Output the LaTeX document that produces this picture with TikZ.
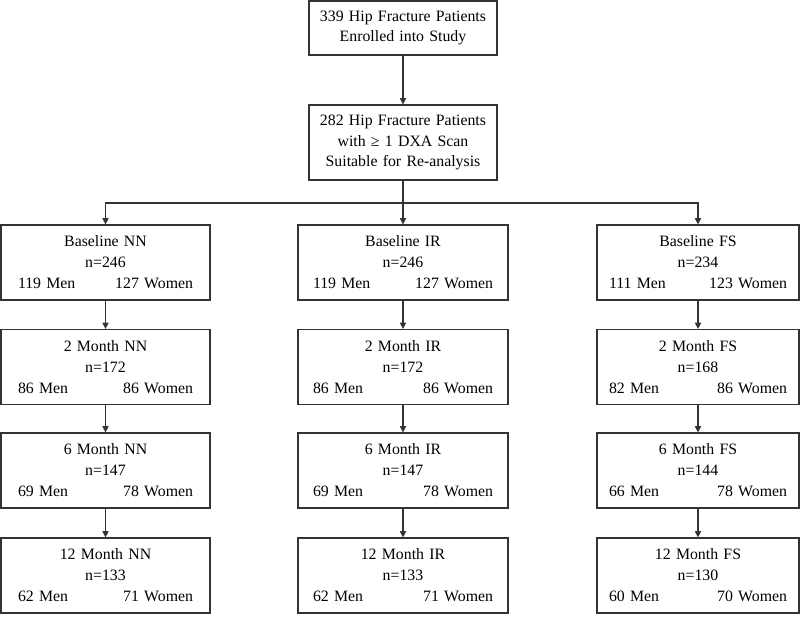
\documentclass[tikz,border=0pt]{standalone}
\usepackage{fontspec}
\setmainfont{Liberation Serif}
\usetikzlibrary{arrows.meta}

\begin{document}
\begin{tikzpicture}[
	font = \fontsize{9}{11.9}\selectfont,
	box/.style = {draw = black!80, line width = 0.7pt, shape = rectangle,
				  align = center, inner xsep = 0pt, inner ysep = 0pt},
	top/.style = {box, minimum width = 3.76cm, text width = 3.6cm},
	nn/.style = {box, minimum height = 1.5cm, minimum width = 4.18cm, text width = 3.5cm},
	ir/.style = {box, minimum height = 1.5cm, minimum width = 4.2cm, text width = 3.6cm},
	fs/.style = {box, minimum height = 1.5cm, minimum width = 4.04cm, text width = 3.56cm},
	link/.style = {draw = black!80, line width = 0.6pt,
				   -{Triangle[length = 3.5pt, width = 3.5pt]}}
]
	\useasboundingbox (0,0) rectangle (16,-12.32);

	% enrolment
	\draw (8.06,-0.56) node[top, minimum height = 1.08cm](hip1)
		{339 Hip Fracture Patients\\Enrolled into Study};
	\draw (8.06,-2.85) node[top, minimum height = 1.5cm](hip2)
		{282 Hip Fracture Patients\\with ≥ 1 DXA Scan\\Suitable for Re-analysis};
	\coordinate (split) at (8.06,-4.06);

	% NN column
	\draw (2.11,-5.25) node[nn](nn0) {Baseline NN\\n=246\\119 Men\hfill 127 Women};
	\draw (2.11,-7.34) node[nn](nn1) {2 Month NN\\n=172\\86 Men\hfill 86 Women};
	\draw (2.11,-9.41) node[nn](nn2) {6 Month NN\\n=147\\69 Men\hfill 78 Women};
	\draw (2.11,-11.51) node[nn](nn3) {12 Month NN\\n=133\\62 Men\hfill 71 Women};

	% IR column
	\draw (8.06,-5.25) node[ir](ir0) {Baseline IR\\n=246\\119 Men\hfill 127 Women};
	\draw (8.06,-7.34) node[ir](ir1) {2 Month IR\\n=172\\86 Men\hfill 86 Women};
	\draw (8.06,-9.41) node[ir](ir2) {6 Month IR\\n=147\\69 Men\hfill 78 Women};
	\draw (8.06,-11.51) node[ir](ir3) {12 Month IR\\n=133\\62 Men\hfill 71 Women};

	% FS column
	\draw (13.96,-5.25) node[fs](fs0) {Baseline FS\\n=234\\111 Men\hfill 123 Women};
	\draw (13.96,-7.34) node[fs](fs1) {2 Month FS\\n=168\\82 Men\hfill 86 Women};
	\draw (13.96,-9.41) node[fs](fs2) {6 Month FS\\n=144\\66 Men\hfill 78 Women};
	\draw (13.96,-11.51) node[fs](fs3) {12 Month FS\\n=130\\60 Men\hfill 70 Women};

	\draw[link] (hip1) -- (hip2);
	\draw[link] (hip2) -- (ir0);
	\draw[link] (split) -| (nn0);
	\draw[link] (split) -| (fs0);

	\draw[link] (nn0) -- (nn1);
	\draw[link] (nn1) -- (nn2);
	\draw[link] (nn2) -- (nn3);
	\draw[link] (ir0) -- (ir1);
	\draw[link] (ir1) -- (ir2);
	\draw[link] (ir2) -- (ir3);
	\draw[link] (fs0) -- (fs1);
	\draw[link] (fs1) -- (fs2);
	\draw[link] (fs2) -- (fs3);

\end{tikzpicture}
\end{document}
